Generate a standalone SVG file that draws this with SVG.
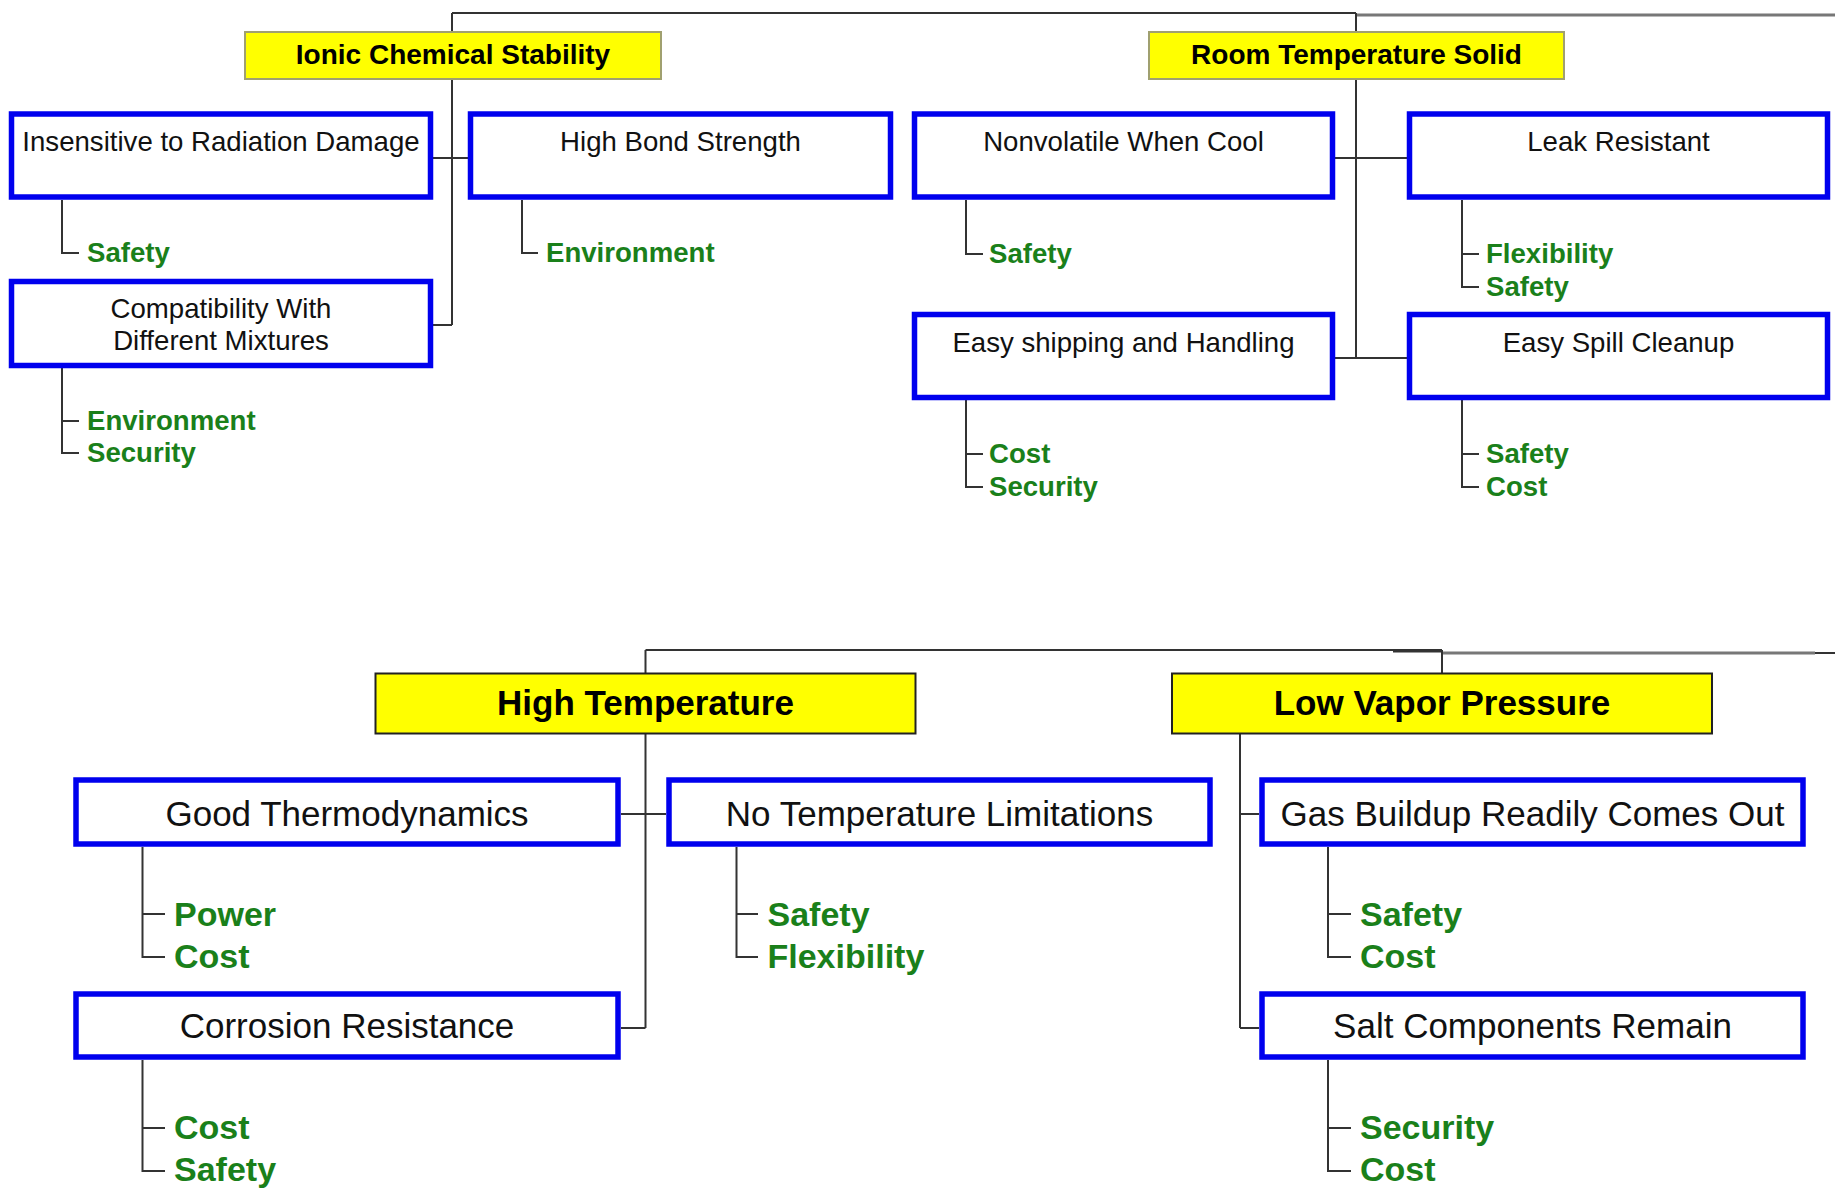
<svg xmlns="http://www.w3.org/2000/svg" width="1835" height="1188" viewBox="0 0 1835 1188">
<style>
.bg{fill:#ffffff}
.hdrT{fill:#ffff00;stroke:#a0a070;stroke-width:2}
.hdrB{fill:#ffff00;stroke:#222222;stroke-width:2}
.box{fill:#ffffff;stroke:#0000ee;stroke-width:5.5}
.ln{fill:none;stroke:#333333;stroke-width:2}
.lg{fill:none;stroke:#777777;stroke-width:3}
.t{font-family:"Liberation Sans",Arial,sans-serif;fill:#111111;text-anchor:middle}
.hT{font-family:"Liberation Sans",Arial,sans-serif;font-weight:bold;fill:#000000;text-anchor:middle;font-size:28px}
.hB{font-family:"Liberation Sans",Arial,sans-serif;font-weight:bold;fill:#000000;text-anchor:middle;font-size:35px}
.nT{font-size:27.6px}
.nB{font-size:35px}
.g{font-family:"Liberation Sans",Arial,sans-serif;font-weight:bold;fill:#1a801a}
.gT{font-size:27.6px}
.gB{font-size:34px}
</style>
<rect class="bg" x="0" y="0" width="1835" height="1188"/>

<g id="connectors">
  <path class="ln" d="M452,13 H1356"/>
  <path class="lg" d="M1356,15 H1835"/>
  <path class="ln" d="M452,13 V32 M1356,13 V32"/>
  <path class="ln" d="M452,79 V325 M433,158 H468 M433,325 H452"/>
  <path class="ln" d="M1356,79 V358 M1335,158 H1407 M1335,358 H1407"/>
  <path class="ln" d="M62,200 V253 H79"/>
  <path class="ln" d="M522,200 V253 H538"/>
  <path class="ln" d="M62,368 V453 H79 M62,421 H79"/>
  <path class="ln" d="M966,200 V254 H983"/>
  <path class="ln" d="M1462,200 V287 H1479 M1462,254 H1479"/>
  <path class="ln" d="M966,400 V487 H983 M966,454 H983"/>
  <path class="ln" d="M1462,400 V487 H1479 M1462,454 H1479"/>
  <path class="ln" d="M645.5,650 H1442"/>
  <path class="ln" d="M1393,651 H1442" style="stroke-width:3"/>
  <path class="lg" d="M1442,653 H1815"/>
  <path class="ln" d="M1815,653 H1835"/>
  <path class="ln" d="M645.5,650 V673 M1442,650 V673"/>
  <path class="ln" d="M645.5,734 V1028 M621,814 H666 M621,1028 H645.5"/>
  <path class="ln" d="M1240,734 V1028 M1240,814 H1259 M1240,1028 H1259"/>
  <path class="ln" d="M142.5,847 V957 H165 M142.5,914 H165"/>
  <path class="ln" d="M736.5,847 V957 H758 M736.5,914 H758"/>
  <path class="ln" d="M142.5,1060 V1171 H165 M142.5,1128 H165"/>
  <path class="ln" d="M1328,847 V957 H1351 M1328,914 H1351"/>
  <path class="ln" d="M1328,1060 V1171 H1351 M1328,1128 H1351"/>
</g>

<g id="ionic">
  <rect class="hdrT" x="245" y="32" width="416" height="47"/>
  <text class="hT" x="453" y="64">Ionic Chemical Stability</text>
</g>
<g id="room">
  <rect class="hdrT" x="1149" y="32" width="415" height="47"/>
  <text class="hT" x="1356.5" y="64">Room Temperature Solid</text>
</g>

<g id="insensitive">
  <rect class="box" x="11.5" y="114" width="419" height="83"/>
  <text class="t nT" x="221" y="151">Insensitive to Radiation Damage</text>
  <text class="g gT" x="87" y="262">Safety</text>
</g>
<g id="highbond">
  <rect class="box" x="470.5" y="114" width="420" height="83"/>
  <text class="t nT" x="680.5" y="151">High Bond Strength</text>
  <text class="g gT" x="546" y="262">Environment</text>
</g>
<g id="compat">
  <rect class="box" x="11.5" y="281.5" width="419" height="84"/>
  <text class="t nT" x="221" y="318">Compatibility With</text>
  <text class="t nT" x="221" y="350">Different Mixtures</text>
  <text class="g gT" x="87" y="430">Environment</text>
  <text class="g gT" x="87" y="462">Security</text>
</g>
<g id="nonvolatile">
  <rect class="box" x="914.5" y="114" width="418" height="83"/>
  <text class="t nT" x="1123.5" y="151">Nonvolatile When Cool</text>
  <text class="g gT" x="989" y="263">Safety</text>
</g>
<g id="leak">
  <rect class="box" x="1409.5" y="114" width="418" height="83"/>
  <text class="t nT" x="1618.5" y="151">Leak Resistant</text>
  <text class="g gT" x="1486" y="263">Flexibility</text>
  <text class="g gT" x="1486" y="296">Safety</text>
</g>
<g id="shipping">
  <rect class="box" x="914.5" y="314.5" width="418" height="83"/>
  <text class="t nT" x="1123.5" y="352">Easy shipping and Handling</text>
  <text class="g gT" x="989" y="463">Cost</text>
  <text class="g gT" x="989" y="496">Security</text>
</g>
<g id="spill">
  <rect class="box" x="1409.5" y="314.5" width="418" height="83"/>
  <text class="t nT" x="1618.5" y="352">Easy Spill Cleanup</text>
  <text class="g gT" x="1486" y="463">Safety</text>
  <text class="g gT" x="1486" y="496">Cost</text>
</g>

<g id="hightemp">
  <rect class="hdrB" x="375.5" y="673.5" width="540" height="60"/>
  <text class="hB" x="645.5" y="715">High Temperature</text>
</g>
<g id="lowvapor">
  <rect class="hdrB" x="1172" y="673.5" width="540" height="60"/>
  <text class="hB" x="1442" y="715">Low Vapor Pressure</text>
</g>

<g id="thermo">
  <rect class="box" x="76" y="780" width="542" height="64"/>
  <text class="t nB" x="347" y="826">Good Thermodynamics</text>
  <text class="g gB" x="174" y="926">Power</text>
  <text class="g gB" x="174" y="968">Cost</text>
</g>
<g id="notemp">
  <rect class="box" x="669" y="780" width="541" height="64"/>
  <text class="t nB" x="939.5" y="826">No Temperature Limitations</text>
  <text class="g gB" x="767.5" y="926">Safety</text>
  <text class="g gB" x="767.5" y="968">Flexibility</text>
</g>
<g id="corrosion">
  <rect class="box" x="76" y="994" width="542" height="63"/>
  <text class="t nB" x="347" y="1038">Corrosion Resistance</text>
  <text class="g gB" x="174" y="1139">Cost</text>
  <text class="g gB" x="174" y="1181">Safety</text>
</g>
<g id="gas">
  <rect class="box" x="1262" y="780" width="541" height="64"/>
  <text class="t nB" x="1532.5" y="826">Gas Buildup Readily Comes Out</text>
  <text class="g gB" x="1360" y="926">Safety</text>
  <text class="g gB" x="1360" y="968">Cost</text>
</g>
<g id="salt">
  <rect class="box" x="1262" y="994" width="541" height="63"/>
  <text class="t nB" x="1532.5" y="1038">Salt Components Remain</text>
  <text class="g gB" x="1360" y="1139">Security</text>
  <text class="g gB" x="1360" y="1181">Cost</text>
</g>
</svg>
